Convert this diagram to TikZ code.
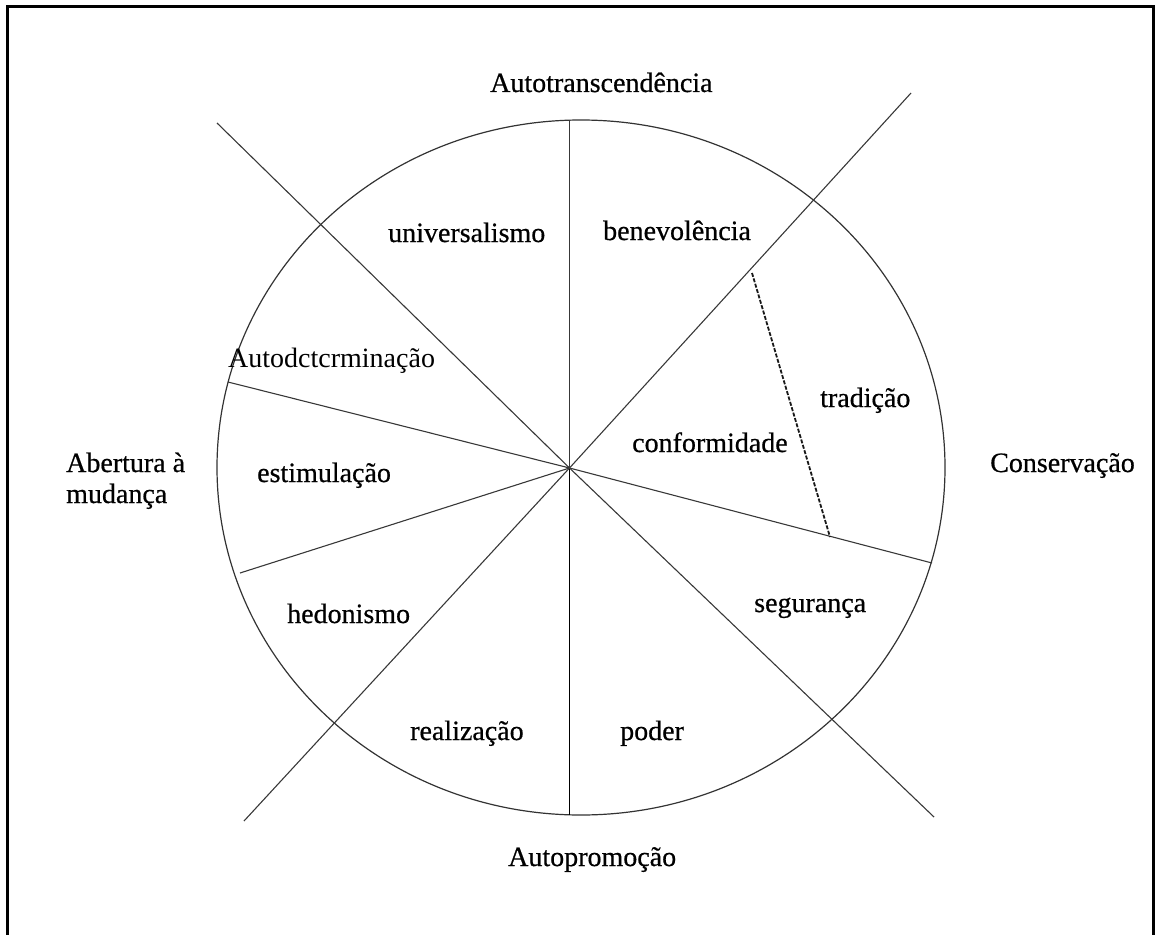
\documentclass[tikz,border=0pt]{standalone}
\usepackage{fontspec}
\setmainfont{Liberation Serif}
\newfontfamily\heavyfont{Liberation Serif}[FakeBold=0.6]
\begin{document}
\begin{tikzpicture}[x=1pt,y=-1pt,
  frameline/.style={line width=3pt,black},
  ray/.style={line width=1.1pt,black!78},
  mainray/.style={line width=1.7pt,black},
  ring/.style={line width=1.2pt,black!80},
  sepline/.style={line width=1.8pt,black!90,dash pattern=on 4pt off 1.6pt},
  lbl/.style={anchor=base west,inner sep=0pt,font=\fontsize{28}{31}\selectfont\heavyfont},
  thinlbl/.style={anchor=base west,inner sep=0pt,font=\fontsize{28}{31}\selectfont}]
\useasboundingbox (0,0) rectangle (1164,934);
\draw[frameline] (7,940) -- (7,7) -- (1153,7) -- (1153,940);
% geometry
\coordinate (O) at (569.5,468);
\coordinate (C) at (581,467.5);
\coordinate (top) at (569.5,120);
\coordinate (bot) at (569.5,815);
\coordinate (nw) at (217,123);
\coordinate (se) at (934,817);
\coordinate (ne) at (911,93);
\coordinate (sw) at (244,821);
\coordinate (wu) at (228,382);
\coordinate (ee) at (932,563);
\coordinate (wl) at (240,573);
\coordinate (d1) at (752,273);
\coordinate (d2) at (830,537);
\draw[ring] (C) ellipse [x radius=364pt, y radius=347.5pt];
\draw[ray] (top) -- (O);
\draw[mainray] (O) -- (bot);
\draw[ray] (nw) -- (O) -- (se);
\draw[ray] (ne) -- (O) -- (sw);
\draw[ray] (wu) -- (O) -- (ee);
\draw[ray] (wl) -- (O);
\draw[sepline] (d1) -- (d2);
% labels
\node[lbl] (autotrans) at (490,92) {Autotranscendência};
\node[lbl] (univ) at (388,242) {universalismo};
\node[lbl] (bene) at (603,240) {benevolência};
\node[thinlbl] (autodet) at (228,367) {Autodctcrminação};
\node[lbl] (trad) at (820,407) {tradição};
\node[lbl] (conf) at (632,452) {conformidade};
\node[lbl] (abert) at (66,472) {Abertura à};
\node[lbl] (mud) at (66,503) {mudança};
\node[lbl] (estim) at (257,482) {estimulação};
\node[lbl] (conserv) at (990,472) {Conservação};
\node[lbl] (hedon) at (287,623) {hedonismo};
\node[lbl] (real) at (410,740) {realização};
\node[lbl] (poder) at (620,740) {poder};
\node[lbl] (segur) at (754,612) {segurança};
\node[lbl] (autoprom) at (508,866) {Autopromoção};
\end{tikzpicture}
\end{document}
